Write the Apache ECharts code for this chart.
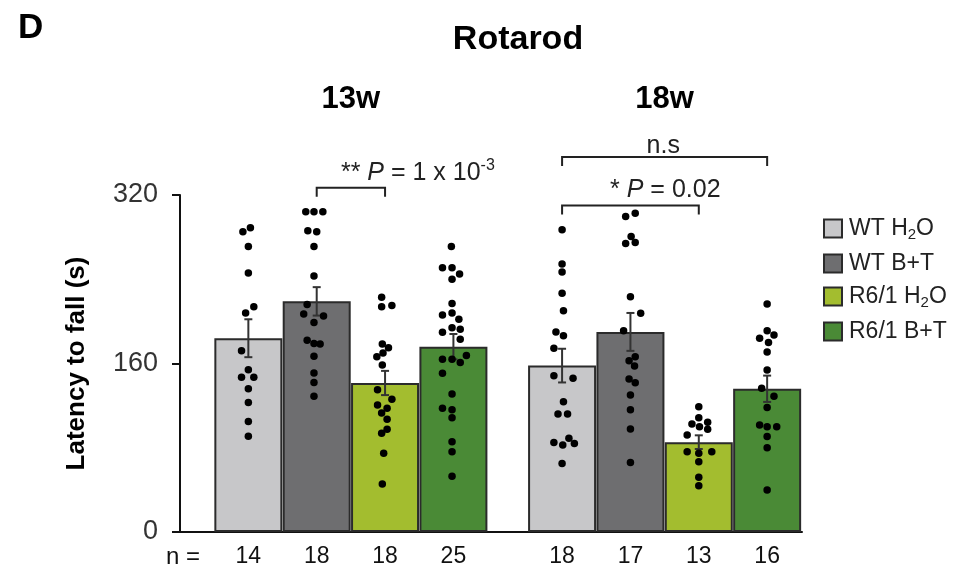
<!DOCTYPE html>
<html><head><meta charset="utf-8">
<script src="https://cdn.jsdelivr.net/npm/echarts/dist/echarts.min.js"></script>
<style>html,body{margin:0;padding:0;background:#fff}#c{width:973px;height:584px}</style>
</head><body><div id="c"></div>
<script>
const FONT = '"Liberation Sans", Arial, Helvetica, sans-serif';

// ---------- data ----------
const groups = ['13w', '18w'];
const treatments = ['WT H2O', 'WT B+T', 'R6/1 H2O', 'R6/1 B+T'];
const barColors = ['#c7c7c9', '#6e6e70', '#a3bd2f', '#4a8a36'];
const yTicks = [0, 160, 320];

const mean13w = [184, 219, 141.5, 176];
const mean18w = [158, 190, 85.3, 136];
const sem13w = [18, 13.5, 11.5, 12];
const sem18w = [16, 18, 6.5, 12.5];
const n13w = [14, 18, 18, 25];
const n18w = [18, 17, 13, 16];

// individual animals (latency, s) and horizontal jitter (in bar widths)
const wtH2O_13w = [285, 289, 271, 246, 208, 214, 172, 154, 147, 147, 136, 123, 105, 91];
const wtH2O_13w_jit = [-0.08, 0.03, 0, 0, -0.04, 0.08, -0.1, 0, -0.1, 0.08, 0, 0, 0, 0];
const wtBT_13w = [304, 304, 304, 286, 285, 271, 243, 216, 207, 205, 199, 182, 179, 178.5, 167, 151, 142, 129];
const wtBT_13w_jit = [-0.16, -0.04, 0.09, -0.13, 0, -0.04, -0.04, -0.14, -0.19, 0.10, -0.04, -0.14, -0.04, 0.05, -0.04, -0.04, -0.04, -0.04];
const r6H2O_13w = [223, 214, 215, 178.5, 175, 170, 166.5, 158.6, 135, 126, 120.6, 117.4, 113, 107, 97.5, 93.7, 74.7, 45.6];
const r6H2O_13w_jit = [-0.05, -0.05, 0.1, -0.04, 0.05, -0.03, -0.12, -0.04, -0.11, 0.1, -0.11, 0.03, -0.05, 0.03, 0.03, -0.05, -0.02, -0.04];
const r6BT_13w = [271, 251, 251, 245, 240, 217, 206, 208, 202, 194, 189.6, 192.5, 183, 164, 164, 161, 167.5, 150.7, 131, 117.4, 116, 108.6, 85.8, 76.3, 53];
const r6BT_13w_jit = [-0.03, -0.16, -0.02, 0.09, -0.02, -0.02, -0.16, -0.02, 0.08, -0.02, -0.16, 0.1, 0.1, -0.16, -0.02, 0.1, 0.19, -0.16, -0.02, -0.16, -0.02, -0.02, -0.02, -0.02, -0.02];

const wtH2O_18w = [287, 254.5, 247, 226.7, 210, 190, 186.4, 174.4, 148.4, 146, 123.7, 112, 112, 85, 82.6, 89, 84, 65];
const wtH2O_18w_jit = [0, 0, 0, 0, 0.02, -0.09, 0.02, -0.12, -0.12, 0.16, 0.02, -0.06, 0.08, -0.12, 0.01, 0.1, 0.18, 0];
const wtBT_18w = [299.5, 302.6, 274, 280.5, 275, 223.5, 207.7, 191, 166.5, 162.7, 157.6, 145.3, 141.8, 130, 116, 97.8, 66];
const wtBT_18w_jit = [-0.07, 0.07, -0.07, 0.01, 0.07, 0, 0.15, -0.1, 0.07, -0.02, 0.06, -0.02, 0.07, 0, 0, 0, 0];
const r6H2O_18w = [119, 108.6, 102.6, 100, 104.2, 97.5, 92.1, 76.3, 76.3, 74.7, 66.8, 52, 44];
const r6H2O_18w_jit = [0, 0, -0.1, 0.01, 0.13, 0.13, -0.17, -0.17, 0.19, 0, 0, 0, 0];
const r6BT_18w = [216.5, 191, 187, 184, 180, 171, 153.8, 136.4, 129, 118.2, 101.6, 100, 100, 90.6, 80, 40];
const r6BT_18w_jit = [0, 0, 0.1, -0.11, 0.02, 0, 0, -0.08, 0.1, 0, -0.11, 0, 0.14, 0, 0, 0];

// significance annotations: [group, from bar, to bar], bracket level (s)
const sigPairs = [[0, 1, 2], [1, 0, 3], [1, 0, 2]];
const sigLevels = [327, 356, 310];
const sigTexts = ['{b|**} {i|P} = 1 x 10{sup|-3}', 'n.s', '* {i|P} = 0.02'];

// ---------- layout helpers ----------
const GROUP_STEP = 4.59;          // distance between first bars of the two groups (bar widths)
const xPos = (g, i) => g * GROUP_STEP + i;
const means = [mean13w, mean18w], sems = [sem13w, sem18w], ns = [n13w, n18w];
const dots = [[wtH2O_13w, wtBT_13w, r6H2O_13w, r6BT_13w], [wtH2O_18w, wtBT_18w, r6H2O_18w, r6BT_18w]];
const jits = [[wtH2O_13w_jit, wtBT_13w_jit, r6H2O_13w_jit, r6BT_13w_jit], [wtH2O_18w_jit, wtBT_18w_jit, r6H2O_18w_jit, r6BT_18w_jit]];

const barSeries = treatments.map((t, i) => ({
  name: t, type: 'bar', barWidth: 68, barGap: '-100%', z: 2,
  itemStyle: { color: barColors[i], borderColor: '#2b2b2b', borderWidth: 2 },
  data: groups.map((g, gi) => [xPos(gi, i), means[gi][i]]),
  label: {
    show: true, position: 'bottom', distance: 13, fontFamily: FONT, fontSize: 23, color: '#111',
    formatter: p => String(ns[p.dataIndex][i])
  }
}));

const errData = [], dotData = [];
groups.forEach((g, gi) => treatments.forEach((t, i) => {
  errData.push([xPos(gi, i), means[gi][i], sems[gi][i]]);
  dots[gi][i].forEach((v, k) => dotData.push([xPos(gi, i) + jits[gi][i][k], v]));
}));

const SIG_FS = 25;
const richSig = {
  i: { fontStyle: 'italic', fontFamily: FONT, fontSize: SIG_FS, color: '#222' },
  b: { fontFamily: FONT, fontSize: SIG_FS, color: '#222' },
  sup: { fontFamily: FONT, fontSize: 16, color: '#222', padding: [0, 0, 14, 0] }
};

// annotation text positions (x in bar widths, y in seconds)
const textX = [2.48, 6.07, 6.10];
const textY = [341, 366, 325];
const weekY = 411;

const chart = echarts.init(document.getElementById('c'));
chart.setOption({
  animation: false,
  backgroundColor: '#fff',
  textStyle: { fontFamily: FONT },
  title: [
    { text: 'D', left: 13, top: 6, textStyle: { fontFamily: FONT, fontSize: 35, fontWeight: 'bold', color: '#000' } },
    { text: 'Rotarod', left: 513, top: 18, textAlign: 'center', textStyle: { fontFamily: FONT, fontSize: 34, fontWeight: 'bold', color: '#000' } }
  ],
  legend: {
    orient: 'vertical', left: 818, top: 212, itemWidth: 18, itemHeight: 18, itemGap: 10,
    data: treatments, icon: 'rect',
    formatter: n => n.replace('H2O', 'H{sub|2}O'),
    textStyle: {
      fontFamily: FONT, fontSize: 23, color: '#222', padding: [0, 0, 0, 2],
      rich: { sub: { fontFamily: FONT, fontSize: 15, color: '#222', padding: [12, 0, 0, 0] } }
    }
  },
  grid: { left: 180, right: 171, top: 195, bottom: 52, containLabel: false },
  xAxis: {
    type: 'value', min: -1, max: 8.1,
    axisLine: { show: true, onZero: false, lineStyle: { color: '#111', width: 2 } },
    axisTick: { show: false }, axisLabel: { show: false }, splitLine: { show: false }
  },
  yAxis: {
    type: 'value', min: yTicks[0], max: yTicks[yTicks.length - 1], interval: yTicks[1] - yTicks[0],
    name: 'Latency to fall (s)', nameLocation: 'middle', nameGap: 90, nameRotate: 90,
    nameTextStyle: { fontFamily: FONT, fontSize: 26, fontWeight: 'bold', color: '#000' },
    axisLine: { show: true, onZero: false, lineStyle: { color: '#111', width: 2 } },
    axisTick: { show: true, length: 8, lineStyle: { color: '#111', width: 2 } },
    axisLabel: { fontFamily: FONT, fontSize: 27, color: '#333', margin: 22 },
    splitLine: { show: false }
  },
  series: [
    ...barSeries,
    {
      type: 'custom', name: 'sem', z: 3, clip: false, silent: true,
      data: errData,
      renderItem: (params, api) => {
        const x = api.value(0), m = api.value(1), s = api.value(2);
        const top = api.coord([x, m + s]), bot = api.coord([x, m - s]);
        const hw = 4, st = { stroke: '#333', lineWidth: 2 };
        return { type: 'group', children: [
          { type: 'line', shape: { x1: top[0], y1: top[1], x2: bot[0], y2: bot[1] }, style: st },
          { type: 'line', shape: { x1: top[0] - hw, y1: top[1], x2: top[0] + hw, y2: top[1] }, style: st },
          { type: 'line', shape: { x1: bot[0] - hw, y1: bot[1], x2: bot[0] + hw, y2: bot[1] }, style: st }
        ] };
      }
    },
    {
      type: 'scatter', name: 'animals', z: 4, symbolSize: 7.5, silent: true,
      itemStyle: { color: '#000', opacity: 1 }, data: dotData
    },
    {
      type: 'custom', name: 'brackets', z: 5, clip: false, silent: true,
      data: sigPairs.map((p, k) => [xPos(p[0], p[1]), xPos(p[0], p[2]), sigLevels[k]]),
      renderItem: (params, api) => {
        const a = api.coord([api.value(0), api.value(2)]);
        const b = api.coord([api.value(1), api.value(2)]);
        const leg = 9, st = { stroke: '#222', lineWidth: 2, fill: null };
        return { type: 'polyline', shape: { points: [[a[0], a[1] + leg], [a[0], a[1]], [b[0], b[1]], [b[0], b[1] + leg]] }, style: st };
      }
    },
    {
      type: 'custom', name: 'sigText', z: 6, clip: false, silent: true,
      data: sigTexts.map((t, k) => [textX[k], textY[k]]),
      renderItem: (params, api) => {
        const p = api.coord([api.value(0), api.value(1)]);
        return { type: 'text', x: p[0], y: p[1], style: {
          text: sigTexts[params.dataIndex], rich: richSig, fontFamily: FONT, fontSize: SIG_FS, fill: '#222',
          align: 'center', verticalAlign: 'middle' } };
      }
    },
    {
      type: 'custom', name: 'weeks', z: 6, clip: false, silent: true,
      data: groups.map((g, gi) => [xPos(gi, 1.5), weekY]),
      renderItem: (params, api) => {
        const p = api.coord([api.value(0), api.value(1)]);
        return { type: 'text', x: p[0], y: p[1], style: {
          text: groups[params.dataIndex], fontFamily: FONT, fontSize: 31, fontWeight: 'bold', fill: '#000',
          align: 'center', verticalAlign: 'middle' } };
      }
    }
  ],
  graphic: [
    { type: 'text', left: 166, top: 545, style: { text: 'n = ', fontFamily: FONT, fontSize: 24, fill: '#111' } }
  ]
});
</script>
</body></html>
